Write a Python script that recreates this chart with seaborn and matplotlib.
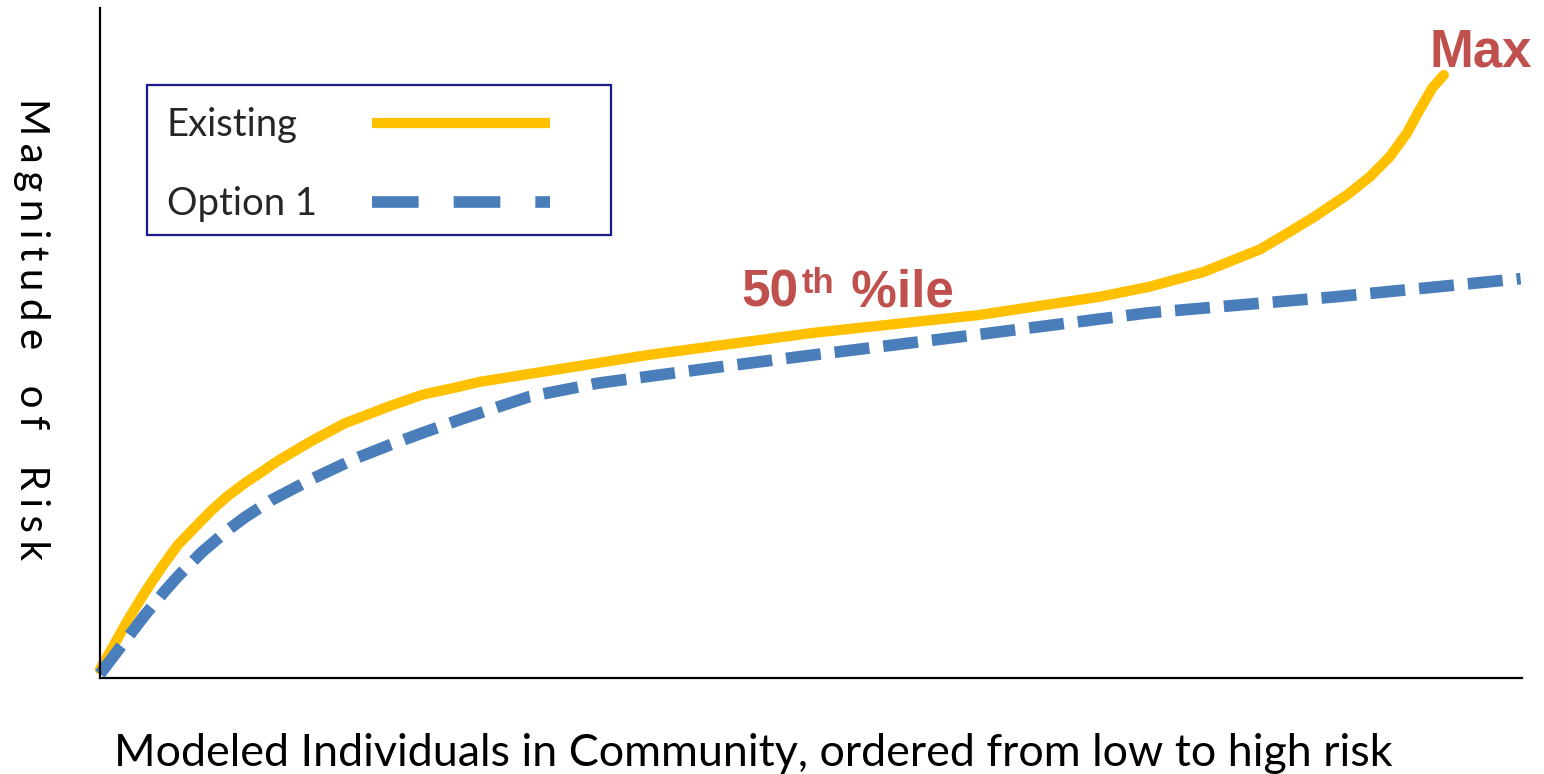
import numpy as np
import pandas as pd
import matplotlib
matplotlib.use("Agg")
import matplotlib.pyplot as plt
from matplotlib.lines import Line2D
from matplotlib.patches import Rectangle
import seaborn as sns

# Share of modeled individuals (ordered low -> high risk) and magnitude of risk
existing_x = [0.0, 1.05, 1.97, 3.16, 4.36, 5.49, 6.68, 7.88, 9.0, 10.2, 11.4, 12.5,
              13.7, 14.9, 17.2, 20.4, 22.7, 25.1, 26.7, 38.5, 50.1, 61.9, 70.3,
              73.8, 77.6, 81.6, 82.8, 85.3, 87.7, 89.3, 90.7, 91.9, 92.8, 93.7, 94.5]
existing_y = [1.3, 5.2, 8.7, 12.8, 16.6, 19.9, 22.5, 25.1, 27.2, 29.1, 30.8, 32.4,
              33.9, 35.4, 38.0, 40.6, 42.3, 43.4, 44.2, 48.2, 51.5, 54.2, 56.9,
              58.4, 60.6, 64.0, 65.5, 68.7, 72.1, 74.8, 77.8, 81.3, 84.8, 88.1, 90.0]

option1_x = [0.0, 1.97, 3.16, 4.57, 5.49, 7.17, 9.0, 10.2, 12.1, 14.9, 17.9, 20.4,
             22.7, 25.5, 27.2, 30.2, 35.0, 43.1, 50.1, 61.9, 73.7, 86.9, 99.9]
option1_y = [0.6, 6.1, 9.4, 13.0, 15.2, 18.8, 22.1, 24.0, 26.6, 29.7, 32.7, 34.8,
             36.6, 38.7, 39.9, 42.0, 44.0, 46.3, 48.2, 51.3, 54.5, 56.9, 59.6]

series_names = ["Existing", "Option 1"]
x_label = "Modeled Individuals in Community, ordered from low to high risk"
y_words = ["Magnitude", "of", "Risk"]
median_label = ("50", "th", " %ile")
max_label = "Max"

GOLD = "#FFC000"
BLUE = "#4A7EBB"
RED = "#C0504D"
NAVY = "#1A1A8C"

sns.set_theme(style="white")
plt.rcParams["font.family"] = ["Lato", "DejaVu Sans"]

fig = plt.figure(figsize=(15.44, 7.74), dpi=100)
ax = fig.add_axes([100 / 1544, 1 - 678 / 774, 1422 / 1544, 670 / 774])

df_exist = pd.DataFrame({"x": existing_x, "y": existing_y})
df_opt = pd.DataFrame({"x": option1_x, "y": option1_y})

sns.lineplot(data=df_exist, x="x", y="y", ax=ax, color=GOLD, lw=7.4,
             solid_capstyle="round", solid_joinstyle="round", clip_on=False, sort=False)
sns.lineplot(data=df_opt, x="x", y="y", ax=ax, color=BLUE, lw=8.4,
             linestyle=(0, (3.0, 1.2)), dash_capstyle="butt", dash_joinstyle="round",
             clip_on=False, sort=False)

ax.set_xlim(0, 100)
ax.set_ylim(0, 100)
ax.set_xticks([])
ax.set_yticks([])
for side in ("top", "right"):
    ax.spines[side].set_visible(False)
for side in ("left", "bottom"):
    ax.spines[side].set_color("black")
    ax.spines[side].set_linewidth(1.6)

# axis titles
ax.set_xlabel(x_label, fontsize=32.3, color="black")
ax.xaxis.set_label_coords(0.4595, -0.112)
ax.xaxis.label.set_va("center")

letter_gap = "\u2009\u200a"
word_gap = letter_gap + "  " + letter_gap
ylab = word_gap.join(letter_gap.join(w) for w in y_words)
ax.set_ylabel(ylab, fontsize=29, color="black", rotation=270)
ax.yaxis.set_label_coords(-0.048, 0.521)
ax.yaxis.label.set_va("center")

# legend (text first, sample line after)
LEG_FS = 27.5
TEXT_PAD = 1.44
handles = [
    Line2D([], [], color=GOLD, lw=7.4, solid_capstyle="butt"),
    Line2D([], [], color=BLUE, lw=8.4, linestyle=(0, (4.0, 3.0)), dash_capstyle="butt"),
]
leg = ax.legend(handles, series_names, loc="center left",
                bbox_to_anchor=(0.047, 0.766), borderaxespad=0, borderpad=0,
                frameon=False, markerfirst=False, fontsize=LEG_FS,
                handlelength=4.66, handletextpad=TEXT_PAD, labelspacing=1.12)
ax.add_patch(Rectangle((47 / 1422, (678 - 235) / 670), 464 / 1422, 150 / 670,
                       transform=ax.transAxes, fill=False, edgecolor=NAVY,
                       lw=1.6, clip_on=False, zorder=5))

# annotations
lab_kw = dict(color=RED, fontweight="bold", family="Liberation Sans")
ax.text(93.5, 91.3, max_label, fontsize=38, clip_on=False, **lab_kw)
t50 = ax.text(45.1, 55.4, median_label[0], fontsize=37, **lab_kw)
tth = ax.annotate(median_label[1], xy=(1, 1), xycoords=t50, xytext=(2, 1),
                  textcoords="offset points", ha="left", va="top", fontsize=25, **lab_kw)
ax.annotate(median_label[2], xy=(1, 0), xycoords=(tth, t50), xytext=(2, 0),
            textcoords="offset points", ha="left", va="bottom", fontsize=37, **lab_kw)

# keep the sample lines aligned in one column while labels stay left-aligned
fig.canvas.draw()
renderer = fig.canvas.get_renderer()
widths = [t.get_window_extent(renderer).width for t in leg.texts]
wmax = max(widths)
rows = leg._legend_handle_box.get_children()[0].get_children()
for row, w in zip(rows, widths):
    row.sep = TEXT_PAD * LEG_FS + (wmax - w) * 72 / fig.dpi

fig.savefig("out.png", dpi=100)
